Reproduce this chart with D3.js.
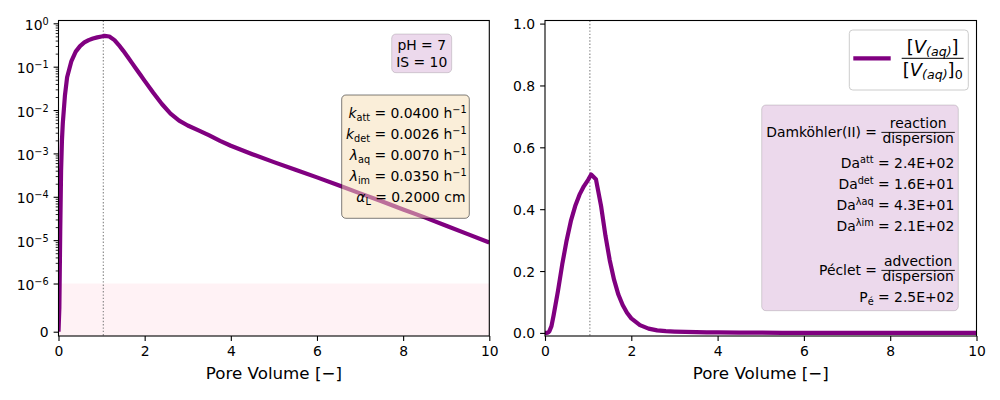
<!DOCTYPE html>
<html><head><meta charset="utf-8">
<script src="https://cdn.jsdelivr.net/npm/d3@7"></script>
<style>
body{margin:0;background:#fff}
text{font-family:"DejaVu Sans",sans-serif;white-space:pre;fill:#000}
</style>
</head><body>
<svg id="c" width="1000" height="400"></svg>
<script>
// ---------------- data ----------------
const poreVolume = [0, 0.02, 0.04, 0.06, 0.08, 0.1, 0.15, 0.2, 0.3, 0.4, 0.5, 0.6, 0.7, 0.8, 0.9, 1.0, 1.07, 1.18, 1.3, 1.4, 1.5, 1.6, 1.7, 1.8, 1.9, 2.0, 2.2, 2.4, 2.6, 2.8, 3.0, 3.25, 3.5, 3.75, 4.0, 4.5, 5.0, 5.5, 6.0, 6.5, 7.0, 7.5, 8.0, 8.5, 9.0, 9.5, 10.0];
const concentration = [0, 5e-7, 1.5e-5, 4e-4, 2e-3, 5e-3, 0.022, 0.057, 0.135, 0.222, 0.298, 0.362, 0.41, 0.447, 0.474, 0.495, 0.512, 0.497, 0.41, 0.315, 0.235, 0.172, 0.124, 0.09, 0.065, 0.047, 0.025, 0.0138, 0.0083, 0.0057, 0.0044, 0.0034, 0.0026, 0.00195, 0.0015, 9.6e-4, 6.3e-4, 4.2e-4, 2.8e-4, 1.85e-4, 1.2e-4, 7.9e-5, 5.1e-5, 3.35e-5, 2.15e-5, 1.38e-5, 8.8e-6];
const peakPoreVolume = 1.04;
const linThresh = 1e-6;
const xTicks = [0, 2, 4, 6, 8, 10];
const leftYTicks = [0, 1e-6, 1e-5, 1e-4, 1e-3, 1e-2, 1e-1, 1];
const leftYTickExponents = [null, "−6", "−5", "−4", "−3", "−2", "−1", "0"];
const rightYTicks = [0, 0.2, 0.4, 0.6, 0.8, 1.0];
const rightYTickLabels = ["0.0", "0.2", "0.4", "0.6", "0.8", "1.0"];
const conditionLines = ["pH = 7", "IS = 10"];
const paramSymbols = ["k", "k", "λ", "λ", "α"];
const paramSubs = ["att", "det", "aq", "im", "L"];
const paramValues = ["0.0400", "0.0026", "0.0070", "0.0350", "0.2000"];
const paramUnits = ["h", "h", "h", "h", "cm"];
const paramUnitExp = ["−1", "−1", "−1", "−1", null];
const daNames = ["att", "det", "λaq", "λim"];
const daValues = ["2.4E+02", "1.6E+01", "4.3E+01", "2.1E+02"];
const pecletValue = "2.5E+02";
const xLabel = "Pore Volume [−]";

// ---------------- setup ----------------
const svg = d3.select("#c");
const FS = 13.9;
const L = {x0: 58.5, x1: 489.3, y0: 20.5, y1: 336};
const R = {x0: 545, x1: 976.5, y0: 20.5, y1: 336};
const linScaleAdj = 1 / (1 - 1 / 10);
function symT(v) {
  const a = Math.abs(v);
  const s = v < 0 ? -1 : 1;
  if (a <= linThresh) return v / linThresh * linScaleAdj;
  return s * (linScaleAdj + Math.log10(a / linThresh));
}

const xL = d3.scaleLinear().domain([0, 10]).range([L.x0, L.x1]);
const yL = d3.scaleLinear().domain([-0.099, 7.176]).range([L.y1, L.y0]);
const xR = d3.scaleLinear().domain([0, 10]).range([R.x0, R.x1]);
const yR = d3.scaleLinear().domain([-0.01, 1.01]).range([R.y1, R.y0]);

const data = poreVolume.map((p, i) => ({p, c: concentration[i]}));

function rich(g, x, y, segs, size, anchor) {
  const t = g.append("text").attr("x", x).attr("y", y)
    .attr("font-size", size).attr("text-anchor", anchor || "start");
  let off = 0;
  segs.forEach(s => {
    const target = s.sup ? -size * 0.36 : s.sub ? size * 0.22 : 0;
    const ts = t.append("tspan").text(s.t).attr("dy", target - off);
    if (s.sup || s.sub) ts.attr("font-size", size * 0.7);
    if (s.it) ts.attr("font-style", "italic");
    off = target;
  });
  return t;
}
function frac(g, xRight, barY, num, den, size, nOff, dOff) {
  const n = rich(g, 0, barY - nOff, num, size, "middle");
  const d = rich(g, 0, barY + dOff, den, size, "middle");
  const w = Math.max(n.node().getBBox().width, d.node().getBBox().width) + 2;
  const cx = xRight - w / 2;
  n.attr("x", cx); d.attr("x", cx);
  g.append("line").attr("x1", xRight - w).attr("x2", xRight)
    .attr("y1", barY).attr("y2", barY).attr("stroke", "#000").attr("stroke-width", 0.9);
  return xRight - w;
}
function roundBox(g, x0, y0, x1, y1, fill, stroke, rx) {
  g.append("rect").attr("x", x0).attr("y", y0).attr("width", x1 - x0).attr("height", y1 - y0)
    .attr("rx", rx).attr("ry", rx).attr("fill", fill).attr("stroke", stroke).attr("stroke-width", 1);
}
function styleAxis(sel) {
  sel.select(".domain").remove();
  sel.selectAll(".tick line").attr("stroke", "#000").attr("stroke-width", 1.1);
  sel.selectAll(".tick text").attr("font-size", FS).attr("fill", "#000")
    .attr("font-family", "DejaVu Sans");
}

// ---------------- left panel ----------------
const gl = svg.append("g");
svg.append("clipPath").attr("id", "clipL").append("rect")
  .attr("x", L.x0).attr("y", L.y0).attr("width", L.x1 - L.x0).attr("height", L.y1 - L.y0);
svg.append("clipPath").attr("id", "clipR").append("rect")
  .attr("x", R.x0).attr("y", R.y0).attr("width", R.x1 - R.x0).attr("height", R.y1 - R.y0);

const glc = gl.append("g").attr("clip-path", "url(#clipL)");
glc.append("rect").attr("x", L.x0).attr("width", L.x1 - L.x0)
  .attr("y", yL(symT(linThresh))).attr("height", L.y1 - yL(symT(linThresh)))
  .attr("fill", "rgb(255,192,203)").attr("fill-opacity", 0.2);
glc.append("line").attr("x1", xL(peakPoreVolume)).attr("x2", xL(peakPoreVolume))
  .attr("y1", L.y0).attr("y2", L.y1).attr("stroke", "#808080").attr("stroke-width", 1.1)
  .attr("stroke-dasharray", "1.4,1.9");
glc.append("path").datum(data)
  .attr("d", d3.line().x(d => xL(d.p)).y(d => yL(symT(d.c))))
  .attr("fill", "none").attr("stroke", "#800080").attr("stroke-width", 4.2)
  .attr("stroke-linejoin", "round");

// x axis
const axL = gl.append("g").attr("transform", `translate(0,${L.y1})`)
  .call(d3.axisBottom(xL).tickValues(xTicks).tickFormat(d3.format("d")).tickSize(4.9).tickPadding(4.9));
styleAxis(axL);
// y axis major
const ayL = gl.append("g").attr("transform", `translate(${L.x0},0)`)
  .call(d3.axisLeft(yL).tickValues(leftYTicks.map(symT)).tickFormat(() => "").tickSize(4.9));
styleAxis(ayL);
ayL.selectAll(".tick text").remove();
// minor ticks
const minorVals = [];
for (let k = -6; k <= -1; k++) for (let m = 2; m <= 9; m++) minorVals.push(m * Math.pow(10, k));
const ayLm = gl.append("g").attr("transform", `translate(${L.x0},0)`)
  .call(d3.axisLeft(yL).tickValues(minorVals.map(symT)).tickFormat(() => "").tickSize(2.8));
styleAxis(ayLm);
ayLm.selectAll(".tick text").remove();
ayLm.selectAll(".tick line").attr("stroke-width", 0.85);
// y tick labels
leftYTicks.forEach((v, i) => {
  const y = yL(symT(v));
  const e = leftYTickExponents[i];
  if (e === null) rich(gl, L.x0 - 9.8, y + 5, [{t: "0"}], FS, "end");
  else rich(gl, L.x0 - 9.8, y + 6.7, [{t: "10"}, {t: e, sup: true}], FS, "end");
});
gl.append("rect").attr("x", L.x0).attr("y", L.y0).attr("width", L.x1 - L.x0).attr("height", L.y1 - L.y0)
  .attr("fill", "none").attr("stroke", "#000").attr("stroke-width", 1.1);
gl.append("text").attr("x", (L.x0 + L.x1) / 2).attr("y", 379.4).attr("text-anchor", "middle")
  .attr("font-size", 16.7).text(xLabel);

// pH box
roundBox(gl, 391.7, 34, 451.7, 72.7, "rgba(128,0,128,0.15)", "rgba(0,0,0,0.15)", 4.2);
conditionLines.forEach((s, i) => {
  gl.append("text").attr("x", 421.7).attr("y", 50 + i * 16.7).attr("text-anchor", "middle")
    .attr("font-size", FS).text(s);
});
// parameter box
roundBox(gl, 341.7, 95, 469.3, 218.3, "rgba(245,222,179,0.5)", "rgba(0,0,0,0.5)", 4.2);
paramSymbols.forEach((s, i) => {
  const segs = [{t: s, it: true}, {t: paramSubs[i], sub: true}, {t: " = " + paramValues[i] + " " + paramUnits[i]}];
  if (paramUnitExp[i]) segs.push({t: paramUnitExp[i], sup: true});
  rich(gl, paramUnitExp[i] ? 466.7 : 465.5, 118.3 + i * 20.85, segs, FS, "end");
});

// ---------------- right panel ----------------
const gr = svg.append("g");
const grc = gr.append("g").attr("clip-path", "url(#clipR)");
grc.append("line").attr("x1", xR(peakPoreVolume)).attr("x2", xR(peakPoreVolume))
  .attr("y1", R.y0).attr("y2", R.y1).attr("stroke", "#808080").attr("stroke-width", 1.1)
  .attr("stroke-dasharray", "1.4,1.9");
grc.append("path").datum(data)
  .attr("d", d3.line().x(d => xR(d.p)).y(d => yR(d.c)))
  .attr("fill", "none").attr("stroke", "#800080").attr("stroke-width", 4.2)
  .attr("stroke-linejoin", "round");
const axR = gr.append("g").attr("transform", `translate(0,${R.y1})`)
  .call(d3.axisBottom(xR).tickValues(xTicks).tickFormat(d3.format("d")).tickSize(4.9).tickPadding(4.9));
styleAxis(axR);
const ayR = gr.append("g").attr("transform", `translate(${R.x0},0)`)
  .call(d3.axisLeft(yR).tickValues(rightYTicks).tickFormat((d, i) => rightYTickLabels[i]).tickSize(4.9).tickPadding(4.9));
styleAxis(ayR);
ayR.selectAll(".tick text").attr("dy", null).attr("y", 5);
gr.append("rect").attr("x", R.x0).attr("y", R.y0).attr("width", R.x1 - R.x0).attr("height", R.y1 - R.y0)
  .attr("fill", "none").attr("stroke", "#000").attr("stroke-width", 1.1);
gr.append("text").attr("x", (R.x0 + R.x1) / 2).attr("y", 379.4).attr("text-anchor", "middle")
  .attr("font-size", 16.7).text(xLabel);

// legend
roundBox(gr, 849.3, 30, 968.3, 90, "rgba(255,255,255,0.8)", "#cccccc", 3.5);
gr.append("line").attr("x1", 853.3).attr("x2", 890.7).attr("y1", 58.3).attr("y2", 58.3)
  .attr("stroke", "#800080").attr("stroke-width", 4.2);
{
  const LF = 18;
  const num = [{t: "["}, {t: "V", it: true}, {t: "(aq)", sub: true, it: true}, {t: "]"}];
  const den = [{t: "["}, {t: "V", it: true}, {t: "(aq)", sub: true, it: true}, {t: "]"}, {t: "0", sub: true}];
  const g = gr.append("g");
  const nt = rich(g, 0, 52.5, num, LF, "middle");
  const dt = rich(g, 0, 75.5, den, LF, "middle");
  const w = Math.max(nt.node().getBBox().width, dt.node().getBBox().width) + 2;
  const left = 901.7, cx = left + w / 2;
  nt.attr("x", cx); dt.attr("x", cx);
  g.append("line").attr("x1", left).attr("x2", left + w).attr("y1", 58.3).attr("y2", 58.3)
    .attr("stroke", "#000").attr("stroke-width", 1);
}

// Damköhler box
roundBox(gr, 761.7, 105, 958.3, 310.7, "rgba(128,0,128,0.15)", "rgba(0,0,0,0.15)", 4.2);
const TR = 954.3;
{
  const left = frac(gr, TR + 0.5, 132.4, [{t: "reaction"}], [{t: "dispersion"}], FS, 4, 11);
  rich(gr, left, 136.9, [{t: "Damköhler(II) = "}], FS, "end");
}
daNames.forEach((n, i) => {
  rich(gr, TR, 168.3 + i * 20.9, [{t: "Da"}, {t: n, sup: true}, {t: " = " + daValues[i]}], FS, "end");
});
{
  const left = frac(gr, TR + 0.5, 270.4, [{t: "advection"}], [{t: "dispersion"}], FS, 4, 11);
  rich(gr, left, 274.9, [{t: "Péclet = "}], FS, "end");
}
rich(gr, TR, 301.7, [{t: "P"}, {t: "é", sub: true}, {t: " = " + pecletValue}], FS, "end");
</script>
</body></html>
